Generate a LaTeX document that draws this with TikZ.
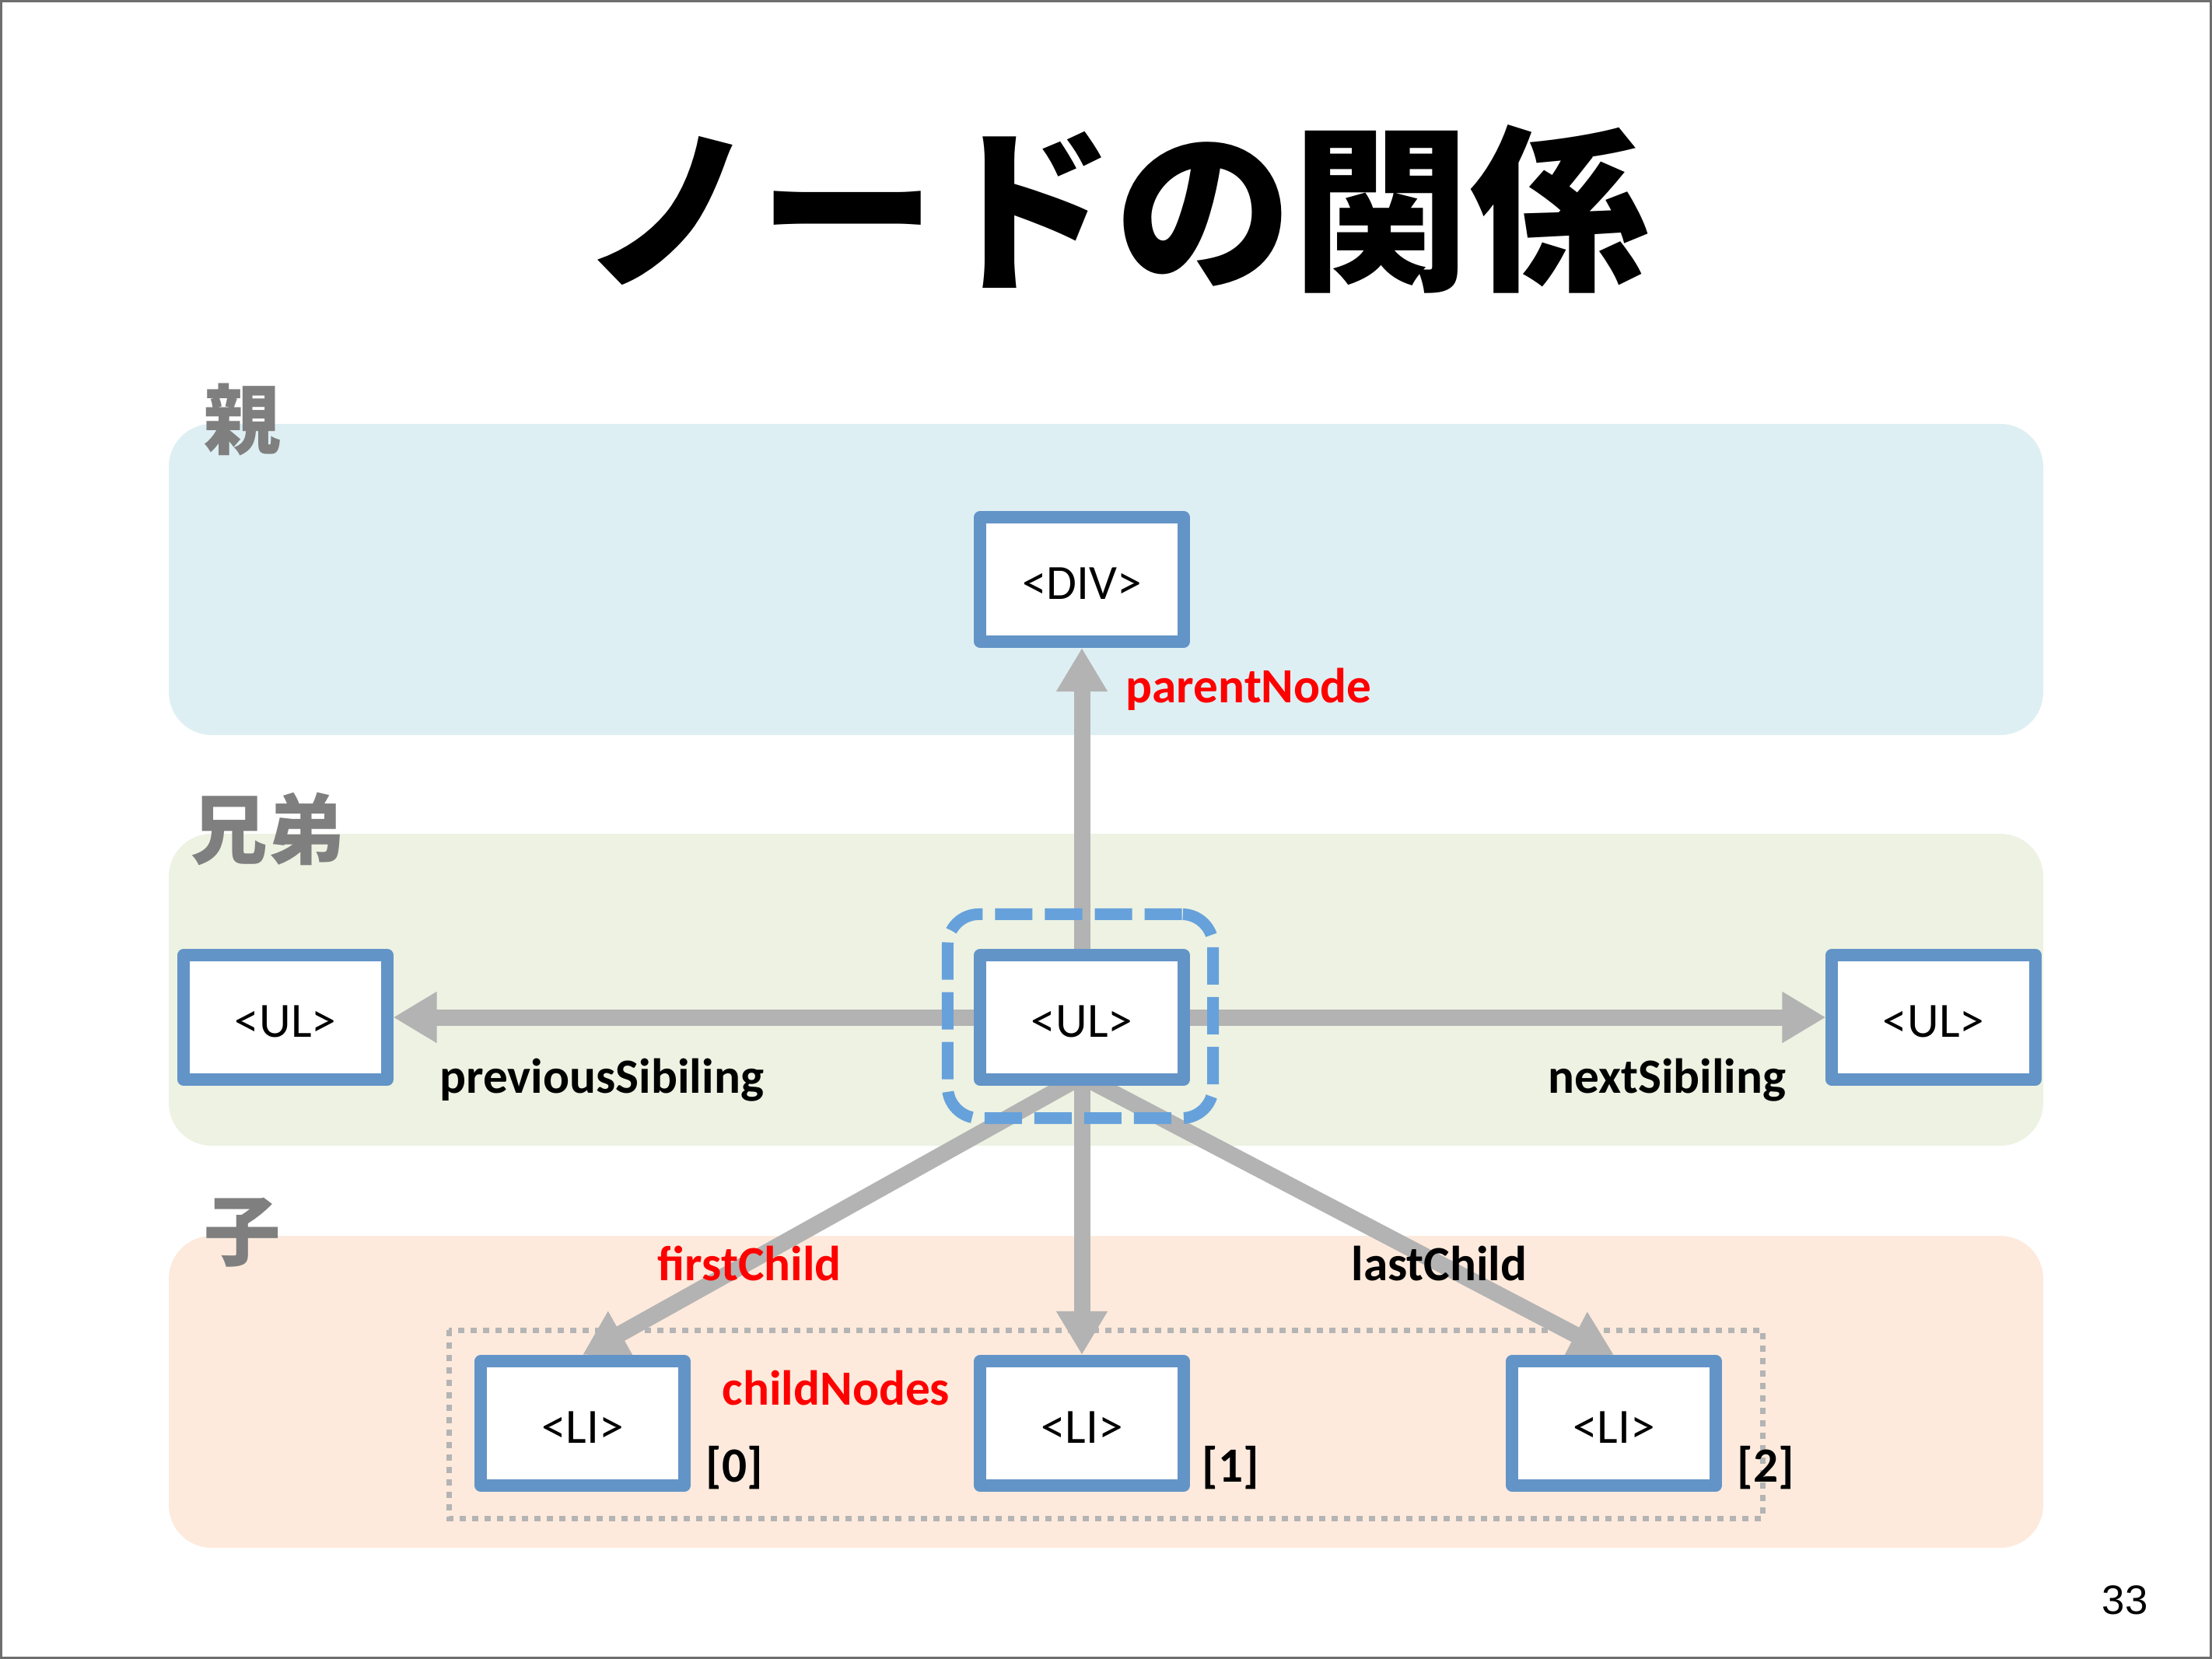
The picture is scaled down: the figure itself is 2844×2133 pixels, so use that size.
\documentclass[tikz,border=0pt]{standalone}
\usepackage{fontspec}
\setmainfont{Carlito}
\newfontfamily\cjk{Noto Sans CJK JP}
\newfontfamily\helv{Liberation Sans}
\usetikzlibrary{arrows.meta}
\definecolor{boxblue}{RGB}{99,148,199}
\definecolor{dashblue}{RGB}{102,161,219}
\definecolor{arrowgray}{RGB}{179,179,179}
\definecolor{dotgray}{RGB}{180,180,180}
\definecolor{bandblue}{RGB}{222,239,244}
\definecolor{bandgreen}{RGB}{237,242,226}
\definecolor{bandpeach}{RGB}{253,234,220}
\definecolor{labelgray}{RGB}{127,127,127}
\definecolor{framegray}{RGB}{110,110,110}
\pgfdeclarelayer{bg}
\pgfdeclarelayer{arr}
\pgfsetlayers{bg,arr,main}
\tikzset{
  elem/.style={draw=boxblue, line width=0.16cm, fill=white, minimum width=2.61cm,
    minimum height=1.60cm, inner sep=0pt, line join=round,
    text height=0.55cm, text depth=0.05cm,
    font=\fontsize{18}{21}\selectfont},
  conn/.style={draw=arrowgray, line width=0.21cm, -{Triangle[length=0.56cm,width=0.62cm]}},
  lbl/.style={font=\fontsize{18}{21}\selectfont\bfseries, inner sep=0pt},
  side/.style={font=\cjk\bfseries\fontsize{28}{32}\selectfont, text=labelgray, inner sep=0pt},
  selframe/.style={draw=dashblue, line width=0.15cm, dash pattern=on 0.48cm off 0.16cm,
    rounded corners=0.4cm, minimum width=3.41cm, minimum height=2.62cm, inner sep=0pt},
  band/.style={rounded corners=0.55cm}
}
\begin{document}
\begin{tikzpicture}[x=0.01cm,y=-0.01cm]
\useasboundingbox (0,0) rectangle (2844,2133);
\begin{pgfonlayer}{bg}
  \fill[white] (0,0) rectangle (2844,2133);
  \fill[bandblue, band] (217,545) rectangle (2627,945);
  \fill[bandgreen, band] (217,1072) rectangle (2627,1473);
  \fill[bandpeach, band] (217,1589) rectangle (2627,1990);
  \draw[dotgray, line width=0.07cm, dash pattern=on 0.08cm off 0.08cm] (577,1710) rectangle (2266,1952);
  \draw[framegray, line width=0.03cm] (1.5,1.5) rectangle (2842.5,2131.5);
\end{pgfonlayer}

\node[font=\cjk\bfseries\fontsize{65}{70}\selectfont, inner sep=0pt] (title) at (1433,269) {ノードの関係};

\node[side] (lp) at (312,540) {親};
\node[side, anchor=west] (ls) at (245,1066) {兄弟};
\node[side] (lc) at (312,1585) {子};

\node[elem] (div) at (1391,745) {<DIV>};
\node[elem] (ulc) at (1391,1308) {<UL>};
\node[elem] (ull) at (367,1308) {<UL>};
\node[elem] (ulr) at (2486,1308) {<UL>};
\node[elem] (li0) at (749,1830) {<LI>};
\node[elem] (li1) at (1391,1830) {<LI>};
\node[elem] (li2) at (2075,1830) {<LI>};

\node[selframe] (sel) at (1389,1306.5) {};

\begin{pgfonlayer}{arr}
  \draw[conn] (ulc.center) -- (div.south);
  \draw[conn] (ulc.center) -- (ull.east);
  \draw[conn] (ulc.center) -- (ulr.west);
  \draw[conn] (ulc.center) -- (li1.north);
  \draw[conn] ([yshift=0.12cm]ulc.south) -- (li0.north);
  \draw[conn] ([yshift=0.12cm]ulc.south) -- (li2.north);
\end{pgfonlayer}

\node[lbl, text=red, anchor=base west] (pn) at (1447,903) {parentNode};
\node[lbl, anchor=base west] (ps) at (565,1405) {previousSibiling};
\node[lbl, anchor=base east] (ns) at (2297,1405) {nextSibiling};
\node[lbl, text=red, anchor=base west] (fc) at (845,1646) {firstChild};
\node[lbl, anchor=base east] (lch) at (1964,1646) {lastChild};
\node[lbl, text=red, anchor=base west] (cn) at (928,1806) {childNodes};
\node[lbl, anchor=base west] (i0) at (907,1905) {[0]};
\node[lbl, anchor=base west] (i1) at (1545,1905) {[1]};
\node[lbl, anchor=base west] (i2) at (2233,1905) {[2]};

\node[font=\helv\fontsize{15}{18}\selectfont, anchor=base, inner sep=0pt] (pg) at (2732,2075) {33};
\end{tikzpicture}
\end{document}
